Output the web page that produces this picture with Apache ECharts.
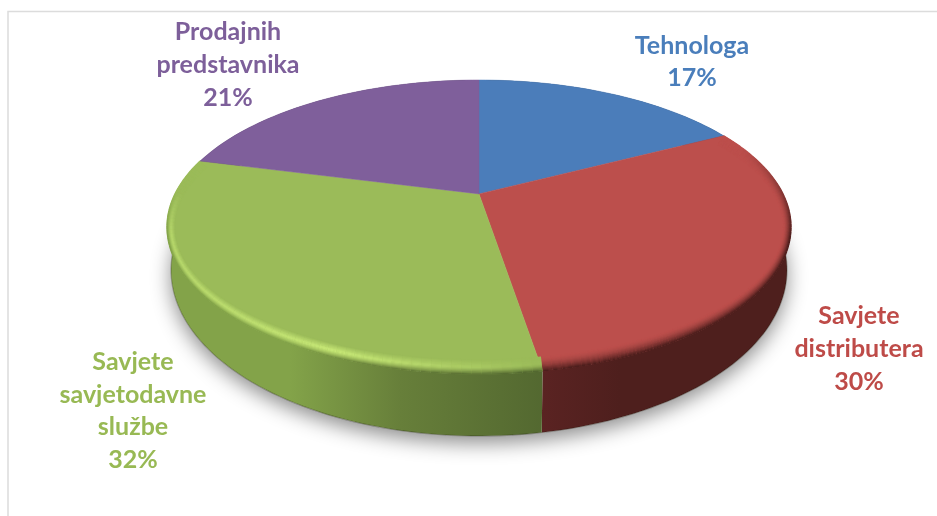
<!DOCTYPE html>
<html>
<head>
<meta charset="utf-8">
<script src="https://cdn.jsdelivr.net/npm/echarts@6/dist/echarts.min.js"></script>
<style>
  html, body { margin: 0; background: #fff; }
  #chart { width: 937px; height: 516px; }
</style>
</head>
<body>
<div id="chart"></div>
<script>
// values, labels show them rounded
const categories = ['Tehnologa', 'Savjete\ndistributera', 'Savjete\nsavjetodavne\nslužbe', 'Prodajnih\npredstavnika']
const shares = [17.4, 30, 31.6, 21]

const topColors = ['#4b7dba', '#bc4f4c', '#9bbb59', '#7f5f9b']
const labelColors = ['#4a7ebb', '#be4b48', '#98b954', '#7d5f9a']
const rimColors = [null, '#4e1f1d', '#c8e977', null]
const labelCenters = [[692, 62], [859, 349], [133, 411], [228, 65]]

// the tilted disc: ellipse of the top face, ellipse of the bottom, apex offset from perspective
const topEl = { cx: 479, cy: 227, rx: 312, ry: 147 }
const bottomEl = { cx: 479, cy: 270, rx: 308, ry: 166 }
const persp = 0.225
const total = shares.reduce((a, b) => a + b, 0)

// green side wall, left to right
const greenWall = [
  [170, '#83a349'],
  [290, '#83a349'],
  [400, '#677f3a'],
  [545, '#536830']
]

// true pie angle -> point on the unit disc seen in perspective
function project (theta, r) {
  let x = Math.sin(theta) * r
  let y = Math.cos(theta) * r
  let d = 1 + persp * y
  return [x * Math.sqrt(1 - persp * persp) / d, (y + persp) / d]
}
function toPx (p, el) {
  return [el.cx + el.rx * p[0], el.cy - el.ry * p[1]]
}
function arcPoints (from, to) {
  let n = Math.max(2, Math.ceil(240 * (to - from) / (Math.PI * 2)))
  let pts = []
  for (let i = 0; i <= n; i++) {
    pts.push(project(from + (to - from) * i / n, 1))
  }
  return pts
}
function sliceAngles (idx) {
  let before = 0
  for (let i = 0; i < idx; i++) before += shares[i]
  return [before / total * Math.PI * 2, (before + shares[idx]) / total * Math.PI * 2]
}
function hexToRgb (c) {
  if (c[0] === '#') return [1, 3, 5].map(i => parseInt(c.substr(i, 2), 16))
  return c.match(/\d+/g).map(Number)
}
function mix (a, b, t) {
  let ca = hexToRgb(a)
  let cb = hexToRgb(b)
  return 'rgb(' + ca.map((v, i) => Math.round(v + (cb[i] - v) * t)).join(',') + ')'
}
function clamp01 (v) {
  return Math.max(0, Math.min(1, v))
}
function greenWallAt (x) {
  for (let i = 0; i < greenWall.length - 1; i++) {
    if (x <= greenWall[i + 1][0]) {
      return mix(greenWall[i][1], greenWall[i + 1][1], clamp01((x - greenWall[i][0]) / (greenWall[i + 1][0] - greenWall[i][0])))
    }
  }
  return greenWall[greenWall.length - 1][1]
}

function renderShadow () {
  let pts = arcPoints(0, Math.PI * 2).map(p => toPx(p, bottomEl))
  return {
    type: 'polygon',
    shape: { points: pts },
    style: { fill: '#fff', shadowBlur: 20, shadowOffsetY: 7, shadowColor: 'rgba(0,0,0,0.45)' },
    silent: true
  }
}

function wallFill (idx) {
  if (idx === 2) {
    let x0 = greenWall[0][0]
    let x1 = greenWall[greenWall.length - 1][0]
    return new echarts.graphic.LinearGradient(x0, 0, x1, 0, greenWall.map(s => ({
      offset: (s[0] - x0) / (x1 - x0),
      color: s[1]
    })), true)
  }
  if (idx === 1) {
    return new echarts.graphic.LinearGradient(543, 0, 620, 0, [
      { offset: 0, color: '#5a2322' },
      { offset: 1, color: '#4e1f1d' }
    ], true)
  }
  return mix(topColors[idx], '#000000', 0.5)
}

function renderWall (params, api) {
  let idx = params.dataIndex
  let a = sliceAngles(idx)
  let arc = arcPoints(a[0], a[1])
  let top = arc.map(p => toPx(p, topEl))
  let bottom = arc.map(p => toPx(p, bottomEl))
  return {
    type: 'group',
    silent: true,
    children: [{
      type: 'polygon',
      shape: { points: top.concat(bottom.slice().reverse()) },
      style: { fill: wallFill(idx) }
    }, {
      type: 'polyline',
      shape: { points: bottom },
      style: { fill: null, stroke: 'rgba(30,30,15,0.3)', lineWidth: 1.2 }
    }]
  }
}

// colour of the bevel at a rim point, t goes from inner to outer edge of the band
function rimColor (idx, p, px, t) {
  let base = topColors[idx]
  if (idx === 1) {
    let s = Math.pow(t, 1.7) * clamp01((0.55 - p[1]) / 0.6)
    return mix(base, rimColors[idx], s)
  }
  let fade = clamp01((0.24 - p[1]) / 0.3)
  let along = p[0] < -0.45 ? 0.6 + 0.4 * clamp01((p[0] + 1) / 0.55) : clamp01((0.22 - p[0]) / 0.67)
  let peak = mix(base, rimColors[idx], fade * along)
  if (t < 0.5) return mix(base, peak, t / 0.5)
  let wall = mix(base, greenWallAt(px), fade)
  return mix(peak, wall, Math.pow((t - 0.5) / 0.5, 1.5))
}

function renderFace (params, api) {
  let idx = params.dataIndex
  let a = sliceAngles(idx)
  let arc = arcPoints(a[0], a[1])
  let apex = toPx(project(0, 0), topEl)
  let children = [{
    type: 'polygon',
    shape: { points: [apex].concat(arc.map(p => toPx(p, topEl))) },
    style: { fill: topColors[idx], stroke: topColors[idx], lineWidth: 0.5 }
  }]
  if (rimColors[idx]) {
    const rings = 14
    for (let k = 0; k < rings; k++) {
      let t = k / (rings - 1)
      let sx = 1 - (1 - t) * 0.024
      let sy = 1 - (1 - t) * 0.095
      let ring = arc.map(p => toPx([p[0] * sx, p[1] * sy], topEl))
      for (let i = 0; i < ring.length - 1; i++) {
        children.push({
          type: 'polyline',
          shape: { points: [ring[i], ring[i + 1]] },
          style: { fill: null, lineWidth: 1.4, stroke: rimColor(idx, arc[i], ring[i][0], t) }
        })
      }
    }
  }
  children.push({
    type: 'text',
    style: {
      text: categories[idx] + '\n' + Math.round(api.value(0)) + '%',
      x: labelCenters[idx][0],
      y: labelCenters[idx][1],
      align: 'center',
      verticalAlign: 'middle',
      font: 'bold 25px Lato, sans-serif',
      lineHeight: 32.6,
      fill: labelColors[idx]
    }
  })
  return { type: 'group', silent: true, children: children }
}

let myChart = echarts.init(document.getElementById('chart'))
let rows = shares.map(v => [v])
myChart.setOption({
  animation: false,
  backgroundColor: '#fff',
  graphic: [{
    type: 'polyline',
    silent: true,
    shape: { points: [[8, 516], [8, 11.5], [937, 11.5]] },
    style: { fill: null, stroke: '#dcdcdc', lineWidth: 1.5 }
  }],
  series: [
    { type: 'custom', coordinateSystem: 'none', renderItem: renderShadow, data: [[total]], z: 1 },
    { type: 'custom', coordinateSystem: 'none', renderItem: renderWall, data: rows, z: 2 },
    { type: 'custom', coordinateSystem: 'none', renderItem: renderFace, data: rows, z: 3 }
  ]
})
</script>
</body>
</html>
